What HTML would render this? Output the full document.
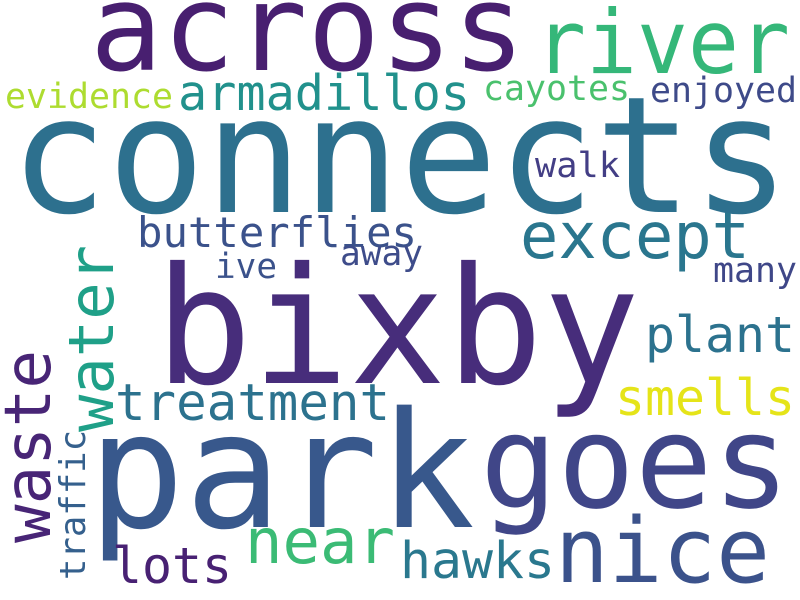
<!DOCTYPE html>
<html><head><meta charset="utf-8"><style>
html,body{margin:0;padding:0;background:#fff;}
svg{display:block;}
text{font-family:"DejaVu Sans Mono","Liberation Mono",monospace;}
</style></head><body>
<svg id="cloud" width="800" height="600" viewBox="0 0 800 600" xmlns="http://www.w3.org/2000/svg">
<rect width="800" height="600" fill="#ffffff"/>
</svg>
<script>
const words  = ["across","river","evidence","armadillos","cayotes","enjoyed","connects","walk","butterflies","except","away","ive","many","bixby","water","waste","treatment","plant","smells","park","goes","traffic","near","lots","hawks","nice"];
const sizes  = [120,88,35,49,35,35,162,35,42,64,35,35,35,162,62,64,51,50,50,161,129,36,62,50,51,90];
const colors = ["#481f70","#35b779","#addc30","#21918c","#4ac16d","#3e4a89","#2d708e","#433e85","#3b528b","#2a768e","#3e4c8a","#3b528b","#3f4788","#472d7b","#1fa088","#482576","#2c728e","#2c728e","#e5e419","#38588c","#404688","#35608d","#3bbb75","#482173","#2a788e","#3b528b"];
const posX   = [90,535,5,178,483,650,10,535,137,520,340,215,713,155,113,50,115,645,615,88,480,85,245,112,400,555];
const posY   = [70,73,108,110,100,102,212,177,247,258,265,278,282,383,432,543,420,352,415,527,507,580,563,583,578,582];
const spans  = [435,255,168,292,147,147,780,85,280,230,83,62,84,485,187,193,275,150,180,387,310,150,150,120,155,215];
const vertical = [0,0,0,0,0,0,0,0,0,0,0,0,0,0,1,1,0,0,0,0,0,1,0,0,0,0];
const svg = document.getElementById('cloud');
const NS = 'http://www.w3.org/2000/svg';
for (let i = 0; i < words.length; i++) {
  const t = document.createElementNS(NS, 'text');
  
  
  t.setAttribute('font-size', sizes[i]);
  t.setAttribute('fill', colors[i]);
  t.setAttribute('textLength', spans[i]);
  t.setAttribute('lengthAdjust', 'spacingAndGlyphs');
  if (vertical[i]) {
    t.setAttribute('transform', 'translate(' + posX[i] + ',' + posY[i] + ') rotate(-90)');
    t.setAttribute('x', 0); t.setAttribute('y', 0);
  } else {
    t.setAttribute('x', posX[i]); t.setAttribute('y', posY[i]);
  }
  t.textContent = words[i];
  svg.appendChild(t);
}
</script>
</body></html>
